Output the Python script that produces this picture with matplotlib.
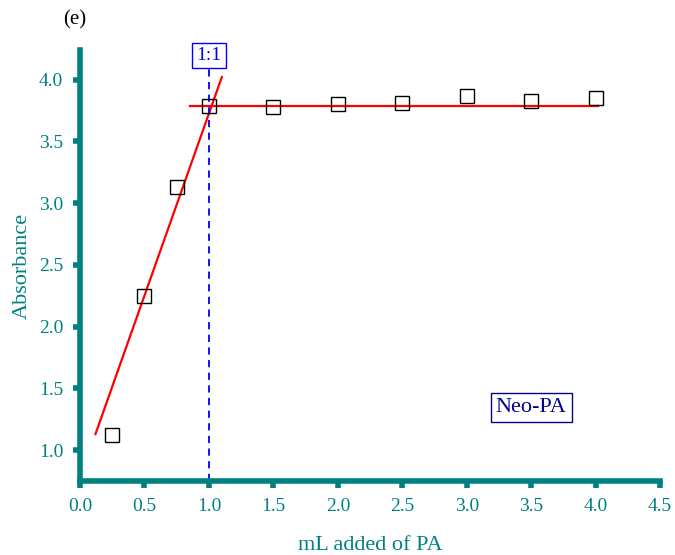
import matplotlib.pyplot as plt

# Data
volume = [0.25, 0.5, 0.75, 1.0, 1.5, 2.0, 2.5, 3.0, 3.5, 4.0]
absorbance = [1.12, 2.25, 3.13, 3.79, 3.78, 3.80, 3.81, 3.87, 3.83, 3.85]

# linear fits drawn as red lines
rise_x = [0.12, 1.10]
rise_y = [1.13, 4.02]
plateau_x = [0.85, 4.02]
plateau_y = [3.79, 3.79]

ratio_x = 1.0
teal = '#008080'

plt.rcParams['font.family'] = ['Liberation Serif', 'DejaVu Serif']

fig = plt.figure(figsize=(6.75, 5.55), dpi=100)
ax = fig.add_axes([0.1185, 0.1333, 0.8595, 0.7767])

ax.plot(volume, absorbance, 's', markersize=10, markerfacecolor='none',
        markeredgecolor='black', markeredgewidth=1.0, zorder=3)
ax.plot(rise_x, rise_y, color='red', linewidth=1.6)
ax.plot(plateau_x, plateau_y, color='red', linewidth=1.6)

# 1:1 marker
ax.plot([ratio_x, ratio_x], [0.75, 4.1], color='blue', linestyle=(0, (4, 3)),
        linewidth=1.3, clip_on=False)
ax.text(ratio_x, 4.195, '1:1', color='blue', fontsize=14, ha='center', va='center',
        bbox=dict(boxstyle='square,pad=0.22', facecolor='white', edgecolor='blue', linewidth=1))

ax.text(3.5, 1.345, 'Neo-PA', color='#00008B', fontsize=16, ha='center', va='center',
        bbox=dict(boxstyle='square,pad=0.22', facecolor='white', edgecolor='#00008B', linewidth=1))

ax.set_xlim(0, 4.5)
ax.set_ylim(0.75, 4.24)
ax.set_xticks([0.0, 0.5, 1.0, 1.5, 2.0, 2.5, 3.0, 3.5, 4.0, 4.5])
ax.set_yticks([1.0, 1.5, 2.0, 2.5, 3.0, 3.5, 4.0])
ax.xaxis.set_major_formatter(plt.FormatStrFormatter('%.1f'))
ax.yaxis.set_major_formatter(plt.FormatStrFormatter('%.1f'))

for side in ['top', 'right']:
    ax.spines[side].set_visible(False)
for side in ['left', 'bottom']:
    ax.spines[side].set_color(teal)
    ax.spines[side].set_linewidth(4)

ax.tick_params(direction='out', length=5, width=4, color=teal, labelcolor=teal,
               labelsize=14, pad=7)

ax.set_xlabel('mL added of PA', color=teal, fontsize=16, labelpad=15)
ax.set_ylabel('Absorbance', color=teal, fontsize=16, labelpad=5)

fig.text(75 / 675, 1 - 20 / 555, '(e)', fontsize=15, ha='center', va='center')

fig.savefig('out.png', dpi=100)
